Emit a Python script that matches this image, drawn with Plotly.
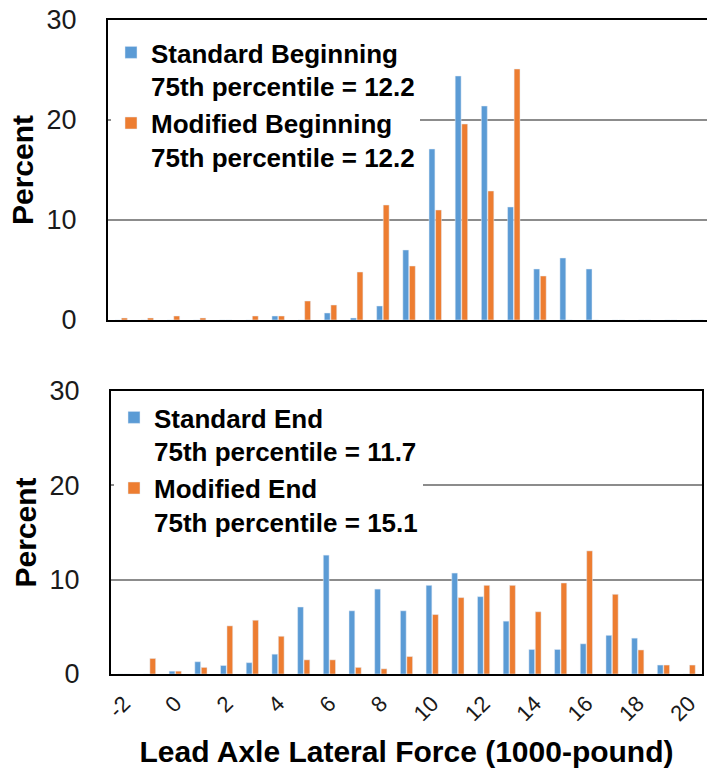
import plotly.graph_objects as go

categories = [str(v) for v in range(-2, 21)]
tick_labels = [str(v) for v in range(-2, 21, 2)]

std_begin = [0, 0, 0, 0, 0, 0, 0.4, 0, 0.7, 0.2, 1.4, 7.0, 17.1, 24.4, 21.4, 11.3, 5.1, 6.2, 5.1, 0, 0, 0, 0]
mod_begin = [0.2, 0.2, 0.4, 0.2, 0, 0.4, 0.4, 1.9, 1.5, 4.8, 11.5, 5.4, 11.0, 19.6, 12.9, 25.1, 4.4, 0, 0, 0, 0, 0, 0]
std_end = [0, 0, 0.3, 1.3, 0.9, 1.2, 2.1, 7.1, 12.6, 6.7, 9.0, 6.7, 9.4, 10.7, 8.2, 5.6, 2.6, 2.6, 3.2, 4.1, 3.8, 0.95, 0]
mod_end = [0, 1.65, 0.3, 0.7, 5.1, 5.7, 4.0, 1.5, 1.5, 0.7, 0.55, 1.85, 6.3, 8.1, 9.4, 9.4, 6.6, 9.65, 13.05, 8.45, 2.55, 0.95, 0.95]

BLUE = "#5B9BD5"
ORANGE = "#ED7D31"
FONT = "Liberation Sans, Arial, sans-serif"
W, H = 707, 778

fig = go.Figure()
fig.add_trace(go.Bar(x=categories, y=std_begin, name="Standard Beginning<br>75th percentile = 12.2",
                     marker_color=BLUE, xaxis="x", yaxis="y", legend="legend"))
fig.add_trace(go.Bar(x=categories, y=mod_begin, name="Modified Beginning<br>75th percentile = 12.2",
                     marker_color=ORANGE, xaxis="x", yaxis="y", legend="legend"))
fig.add_trace(go.Bar(x=categories, y=std_end, name="Standard End<br>75th percentile = 11.7",
                     marker_color=BLUE, xaxis="x2", yaxis="y2", legend="legend2"))
fig.add_trace(go.Bar(x=categories, y=mod_end, name="Modified End<br>75th percentile = 15.1",
                     marker_color=ORANGE, xaxis="x2", yaxis="y2", legend="legend2"))

yaxis_common = dict(range=[0, 30], dtick=10, showgrid=True, gridcolor="#8c8c8c", gridwidth=1.5,
                    zeroline=False, showline=True, linecolor="black", linewidth=2,
                    ticks="", ticklabelstandoff=24,
                    tickfont=dict(family=FONT, size=27, color="#1a1a1a"),
                    title=dict(text="Percent", font=dict(family=FONT, size=30, color="black", weight="bold"),
                               standoff=4),
                    automargin=False, fixedrange=True)
xaxis_common = dict(type="category", showgrid=False, zeroline=False, showline=True, linecolor="black",
                    linewidth=2, mirror=True, ticks="", automargin=False, fixedrange=True)

legend_common = dict(xanchor="left", yanchor="top", bgcolor="white", borderwidth=0, valign="top",
                     font=dict(family=FONT, size=26, color="black", weight="bold"), itemclick=False)

fig.update_layout(
    width=W, height=H,
    margin=dict(l=0, r=0, t=0, b=0),
    paper_bgcolor="white", plot_bgcolor="white",
    barmode="group", bargap=0.5, bargroupgap=0.1,
    xaxis=dict(xaxis_common, domain=[108 / W, 1], range=[-0.5, 22.38], showticklabels=False, anchor="y"),
    yaxis=dict(yaxis_common, domain=[1 - 320 / H, 1 - 20 / H], anchor="x", mirror=False),
    xaxis2=dict(xaxis_common, domain=[111 / W, 702 / W], range=[-0.5, 22.5], anchor="y2",
                tickvals=tick_labels, ticktext=tick_labels, tickangle=-45, ticklabelstandoff=6,
                tickfont=dict(family=FONT, size=22, color="#1a1a1a"),
                title=dict(text="Lead Axle Lateral Force (1000-pound)",
                           font=dict(family=FONT, size=30, color="black", weight="bold"), standoff=16)),
    yaxis2=dict(yaxis_common, domain=[1 - 674 / H, 1 - 391 / H], anchor="x2", mirror=True),
    legend=dict(legend_common, x=111 / W, y=1 - 29 / H),
    legend2=dict(legend_common, x=114 / W, y=1 - 394 / H),
)

fig.write_html("out.html")
